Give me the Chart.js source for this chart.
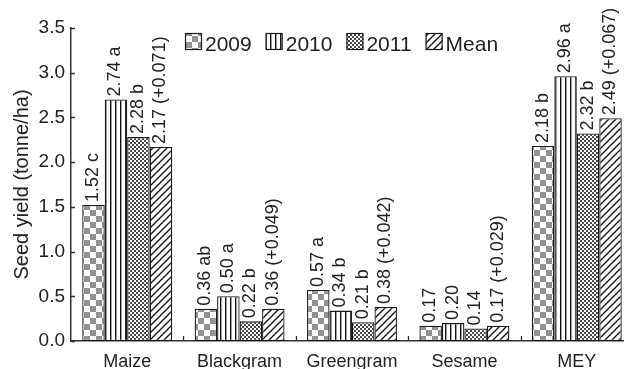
<!DOCTYPE html>
<html>
<head>
<meta charset="utf-8">
<script src="https://cdn.jsdelivr.net/npm/chart.js@4.4.1/dist/chart.umd.min.js"></script>
<style>
  html, body { margin: 0; padding: 0; background: #fff; overflow: hidden; }
  #wrap { width: 624px; height: 369px; overflow: hidden; position: relative; background:#fff; }
  canvas { display: block; }
</style>
</head>
<body>
<div id="wrap"><canvas id="c" width="640" height="380"></canvas></div>
<script>
// ---- data ----
const categories = ['Maize', 'Blackgram', 'Greengram', 'Sesame', 'MEY'];
const seriesNames = ['2009', '2010', '2011', 'Mean'];
const values2009 = [1.52, 0.36, 0.57, 0.17, 2.18];
const values2010 = [2.70, 0.50, 0.34, 0.20, 2.96];
const values2011 = [2.28, 0.22, 0.21, 0.14, 2.32];
const valuesMean = [2.17, 0.36, 0.38, 0.17, 2.49];
const labels2009 = ['1.52 c', '0.36 ab', '0.57 a', '0.17', '2.18 b'];
const labels2010 = ['2.74 a', '0.50 a', '0.34 b', '0.20', '2.96 a'];
const labels2011 = ['2.28 b', '0.22 b', '0.21 b', '0.14', '2.32 b'];
const labelsMean = ['2.17 (+0.071)', '0.36 (+0.049)', '0.38 (+0.042)', '0.17 (+0.029)', '2.49 (+0.067)'];
const yTicks = [0, 0.5, 1.0, 1.5, 2.0, 2.5, 3.0, 3.5];

const FONT = '"Liberation Sans", Arial, Helvetica, sans-serif';
const INK = '#222';

// ---- patterns ----
function makePattern(w, h, draw) {
  const t = document.createElement('canvas');
  t.width = w; t.height = h;
  const g = t.getContext('2d');
  g.fillStyle = '#fff'; g.fillRect(0, 0, w, h);
  draw(g, w, h);
  return document.getElementById('c').getContext('2d').createPattern(t, 'repeat');
}
const patChecker = makePattern(12, 12, (g) => {
  g.fillStyle = '#929292';
  g.fillRect(0, 0, 6, 6); g.fillRect(6, 6, 6, 6);
});
const patVertical = makePattern(5, 5, (g) => {
  g.fillStyle = '#111';
  g.fillRect(0, 0, 1.4, 5);
});
const patDots = makePattern(4, 4, (g) => {
  g.fillStyle = '#4a4a4a';
  g.fillRect(0, 0, 2, 2); g.fillRect(2, 2, 2, 2);
});
const patDiag = makePattern(7, 7, (g) => {
  g.strokeStyle = '#111'; g.lineWidth = 1.3;
  g.beginPath();
  g.moveTo(-1, 8); g.lineTo(8, -1);
  g.moveTo(-1, 1); g.lineTo(1, -1);
  g.moveTo(6, 8); g.lineTo(8, 6);
  g.stroke();
});
const patterns = [patChecker, patVertical, patDots, patDiag];
const seriesValues = [values2009, values2010, values2011, valuesMean];
const seriesLabels = [labels2009, labels2010, labels2011, labelsMean];

const datasets = seriesNames.map((name, i) => ({
  label: name,
  data: seriesValues[i],
  backgroundColor: patterns[i],
  borderColor: '#1a1a1a',
  borderWidth: 1.3,
  borderSkipped: false,
  valueLabels: seriesLabels[i],
  barPercentage: 1.0,
  categoryPercentage: 0.8
}));

// ---- plugins ----
const decorPlugin = {
  id: 'decor',
  afterDatasetsDraw(chart) {
    const ctx = chart.ctx;
    const area = chart.chartArea;
    const xs = chart.scales.x, ys = chart.scales.y;
    ctx.save();
    // inward ticks
    ctx.strokeStyle = '#333'; ctx.lineWidth = 1.3;
    ctx.beginPath();
    yTicks.forEach(v => {
      const y = Math.round(ys.getPixelForValue(v)) + 0.5;
      ctx.moveTo(area.left, y); ctx.lineTo(area.left + 4, y);
    });
    for (let i = 0; i < categories.length - 1; i++) {
      const x = Math.round((xs.getPixelForValue(i) + xs.getPixelForValue(i + 1)) / 2) + 0.5;
      ctx.moveTo(x, area.bottom); ctx.lineTo(x, area.bottom - 5);
    }
    ctx.stroke();
    // value labels (rotated)
    ctx.fillStyle = INK;
    ctx.font = '18px ' + FONT;
    ctx.textAlign = 'left';
    ctx.textBaseline = 'middle';
    chart.data.datasets.forEach((ds, di) => {
      const meta = chart.getDatasetMeta(di);
      meta.data.forEach((bar, i) => {
        ctx.save();
        ctx.translate(bar.x - 0.5, bar.y - 3);
        ctx.rotate(-Math.PI / 2);
        ctx.fillText(ds.valueLabels[i], 0, 0);
        ctx.restore();
      });
    });
    // legend
    ctx.font = '21px ' + FONT;
    ctx.textBaseline = 'alphabetic';
    let x = area.left + 114;
    const boxTop = 33, box = 17;
    chart.data.datasets.forEach((ds) => {
      ctx.fillStyle = ds.backgroundColor;
      ctx.fillRect(x, boxTop, box, box);
      ctx.strokeStyle = '#1a1a1a'; ctx.lineWidth = 1.2;
      ctx.strokeRect(x + 0.5, boxTop + 0.5, box - 1, box - 1);
      ctx.fillStyle = INK;
      ctx.fillText(ds.label, x + box + 3, boxTop + box + 0.5);
      x += box + 3 + ctx.measureText(ds.label).width + 14;
    });
    ctx.restore();
  }
};

const bgPlugin = {
  id: 'bg',
  beforeDraw(chart) {
    const ctx = chart.ctx;
    ctx.save(); ctx.fillStyle = '#fff';
    ctx.fillRect(0, 0, chart.width, chart.height);
    ctx.restore();
  }
};

new Chart(document.getElementById('c'), {
  type: 'bar',
  data: { labels: categories, datasets },
  options: {
    responsive: false,
    devicePixelRatio: 1,
    animation: false,
    layout: { padding: { top: 28, right: 7, left: 0, bottom: 0 } },
    plugins: { legend: { display: false }, tooltip: { enabled: false } },
    scales: {
      x: {
        grid: { display: false, drawTicks: false },
        border: { display: true, color: '#333', width: 1.5 },
        ticks: { color: INK, font: { family: FONT, size: 18 }, padding: 10, maxRotation: 0 },
        afterFit(scale) { scale.height = 39; }
      },
      y: {
        min: 0, max: 3.5,
        afterBuildTicks(scale) { scale.ticks = yTicks.map(v => ({ value: v })); },
        grid: { display: false, drawTicks: false },
        border: { display: true, color: '#333', width: 1.5 },
        ticks: { color: INK, font: { family: FONT, size: 19 }, padding: 6,
                 callback: (v) => Number(v).toFixed(1) },
        title: { display: true, text: 'Seed yield (tonne/ha)', color: INK,
                 font: { family: FONT, size: 20 }, padding: { top: 10, bottom: 0 } },
        afterFit(scale) { scale.width = 71; }
      }
    }
  },
  plugins: [bgPlugin, decorPlugin]
});
</script>
</body>
</html>
